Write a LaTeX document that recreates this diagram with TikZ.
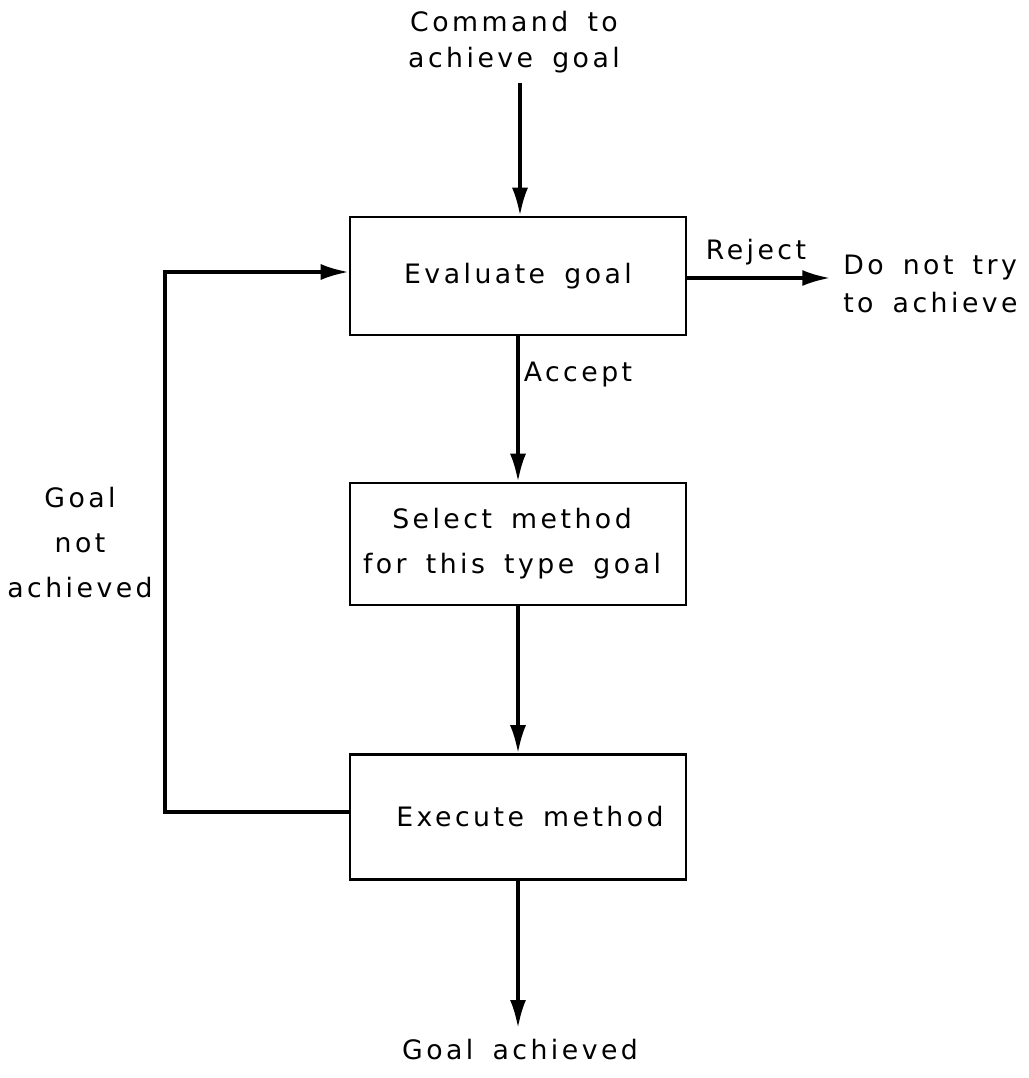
\documentclass[tikz,border=0pt]{standalone}
\usepackage{fontspec}
\setmainfont[LetterSpace=13,WordSpace=1.6]{DejaVu Sans}
\usetikzlibrary{arrows.meta,calc}
\begin{document}
\begin{tikzpicture}[x=0.025cm,y=-0.025cm,
  lbl/.style={font=\fontsize{19pt}{32pt}\selectfont, inner sep=0pt},
  box/.style={draw, line width=1.8pt, minimum width=336*0.025cm, inner sep=0pt, font=\fontsize{19pt}{32pt}\selectfont, align=center},
  arr/.style={line width=2.4pt, -{Latex[length=0.7cm,width=0.4cm]}},
  ln/.style={line width=2.4pt}]
\useasboundingbox (0,0) rectangle (1029,1078);
% boxes
\node[box, minimum height=118*0.025cm] (b1) at (518,276) {Evaluate goal};
\node[box, minimum height=122*0.025cm] (b2) at (518,544) {Select method\hspace*{0.3cm}\\for this type goal\hspace*{0.3cm}};
\node[box, minimum height=125*0.025cm] (b3) at (518,817) {\hspace*{0.6cm}Execute method};
% labels
\node[lbl, align=center, font=\fontsize{19pt}{26pt}\selectfont] (cmd) at (514,42) {Command to\\achieve goal};
\node[lbl] (rej) at (756,252) {Reject};
\node[lbl, align=left, anchor=west, font=\fontsize{19pt}{27pt}\selectfont] (dnt) at (843,284) {Do not try\\to achieve};
\node[lbl] (acc) at (578,375) {Accept};
\node[lbl, align=center] (gna) at (80,543) {Goal\\not\\achieved};
\node[lbl] (ga) at (520,1050) {Goal achieved};
% connectors
\coordinate (top) at (520,83);
\draw[arr] (top) -- (top |- b1.north);
\draw[arr] ($(b1.east)+(0,2)$) -- ($(b1.east)+(143,2)$) coordinate (rejend);
\draw[arr] (b1.south) -- (b2.north);
\draw[arr] (b2.south) -- (b3.north);
\coordinate (bot) at (518,1028);
\draw[arr] (b3.south) -- (bot);
\coordinate (fb1) at (165,812);
\coordinate (fb2) at (165,272);
\draw[ln, line join=miter] ($(b3.west)+(0,-5)$) -- (fb1) -- (fb2) -- ($(b1.west)+(-30,-4)$);
\draw[arr] ($(b1.west)+(-40,-4)$) -- ($(b1.west)+(0,-4)$);
\end{tikzpicture}
\end{document}
